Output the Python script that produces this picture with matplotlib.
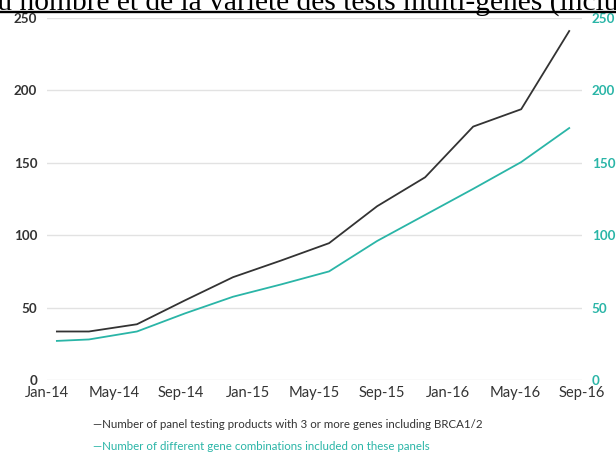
import numpy as np
import matplotlib
matplotlib.use("Agg")
import matplotlib.pyplot as plt
from matplotlib.lines import Line2D

# Quarterly observations, as month offsets from Jan-14
months = [0, 2, 5, 8, 11, 14, 17, 20, 23, 26, 29, 32]
panel_products = [33.5, 33.5, 38.5, 55, 71, 82.5, 94.5, 120, 140, 175, 187, 241]
gene_combinations = [27, 28, 33.5, 46, 57.5, 66, 75, 96, 114, 132, 150.5, 174]

tick_labels = ["Jan-14", "May-14", "Sep-14", "Jan-15", "May-15",
               "Sep-15", "Jan-16", "May-16", "Sep-16"]
y_ticks = [0, 50, 100, 150, 200, 250]

title_text = "Évolution du nombre et de la variété des tests multi-gènes (incluant BRCA1/2)"
title_lead = "Évolution d"
title_visible = "u nombre et de la variété des tests multi-gènes (inclu"

label_products = "—Number of panel testing products with 3 or more genes including BRCA1/2"
label_combos = "—Number of different gene combinations included on these panels"

DARK = "#333333"
TEAL = "#2ab5a7"
GRID = "#e2e2e2"
SANS = "Lato"

W, H = 616, 454
fig = plt.figure(figsize=(W / 100, H / 100), dpi=100)

ax = fig.add_axes([47 / W, (H - 380) / H, (582 - 47) / W, (380 - 18) / H])
ax2 = ax.twinx()

ax.plot(months, panel_products, color=DARK, lw=1.3, zorder=3)
ax2.plot(months, gene_combinations, color=TEAL, lw=1.3, zorder=3)

xpad = 8 / 16.19
ax.set_xlim(-xpad, 32 + 9 / 16.19)
for a in (ax, ax2):
    a.set_ylim(0, 250)
    a.set_yticks(y_ticks)
    for s in a.spines.values():
        s.set_visible(False)

ax.yaxis.grid(True, color=GRID, lw=1)
ax.set_axisbelow(True)
ax.set_yticklabels([str(v) for v in y_ticks], fontfamily=SANS,
                   fontweight="bold", fontsize=9.6, color=DARK)
ax2.set_yticklabels([str(v) for v in y_ticks], fontfamily=SANS,
                    fontweight="bold", fontsize=9.6, color=TEAL)
ax.tick_params(axis="y", length=0, pad=7)
ax2.tick_params(axis="y", length=0, pad=7)

# Month labels spread evenly under the plot
label_pos = np.linspace((45 - 55) / 16.19, (586 - 55) / 16.19, len(tick_labels))
ax.set_xticks(label_pos)
ax.set_xticklabels(tick_labels, fontfamily=SANS, fontsize=10.6, color=DARK)
ax.tick_params(axis="x", length=0, pad=4.5)

# Legend lines as coloured text
fig.text(93 / W, 1 - 424 / H, label_products, fontfamily=SANS, fontsize=8.3,
         color=DARK, va="center", ha="left")
fig.text(93 / W, 1 - 447 / H, label_combos, fontfamily=SANS, fontsize=8.3,
         color=TEAL, va="center", ha="left")

# Underlined serif heading running past the figure edges
renderer = fig.canvas.get_renderer()
probe = fig.text(0, 0, title_visible, fontfamily="Liberation Serif", fontsize=20)
w_vis = probe.get_window_extent(renderer).width
probe.remove()
fs = 20 * 622 / w_vis
probe = fig.text(0, 0, title_lead, fontfamily="Liberation Serif", fontsize=fs)
w_lead = probe.get_window_extent(renderer).width
probe.remove()
fig.text((-w_lead - 3) / W, 1 - 9.5 / H, title_text, fontfamily="Liberation Serif",
         fontsize=fs, color="black", ha="left", va="baseline")
fig.add_artist(Line2D([0, 1], [1 - 12 / H, 1 - 12 / H], transform=fig.transFigure,
                      color="black", lw=1.7))

fig.savefig("out.png", dpi=100)
